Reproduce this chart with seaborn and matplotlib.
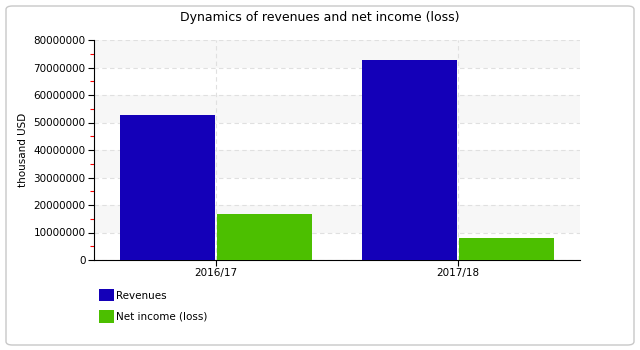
import matplotlib
matplotlib.use("Agg")
import matplotlib.pyplot as plt
import seaborn as sns
import pandas as pd
from matplotlib.patches import FancyBboxPatch, Patch
from matplotlib.ticker import MultipleLocator

categories = ["2016/17", "2017/18"]
series_names = ["Revenues", "Net income (loss)"]
revenues = [52800000, 72700000]
net_income = [16700000, 8000000]
colors = ["#1400B8", "#4CBF00"]

df = pd.DataFrame({
    "period": categories * 2,
    "series": [series_names[0]] * 2 + [series_names[1]] * 2,
    "value": revenues + net_income,
})

sns.set_style("white")
plt.rcParams["font.family"] = ["DejaVu Sans"]
plt.rcParams["text.color"] = "black"
plt.rcParams["axes.labelcolor"] = "black"
plt.rcParams["xtick.color"] = "black"
plt.rcParams["ytick.color"] = "black"

fig = plt.figure(figsize=(6.4, 3.5), dpi=100)
ax = fig.add_axes([94 / 640, 90 / 350, 486 / 640, 220 / 350])

# border
fig.patches.append(FancyBboxPatch((6 / 640, 5 / 350), 628 / 640, 339 / 350,
                                  boxstyle="round,pad=0,rounding_size=0.01",
                                  transform=fig.transFigure, fill=False,
                                  edgecolor="#c8c8c8", linewidth=1))

# bands
for lo in range(10000000, 80000000, 20000000):
    ax.axhspan(lo, lo + 10000000, color="#f7f7f7", zorder=0, lw=0)

sns.barplot(data=df, x="period", y="value", hue="series", palette=colors,
            width=0.8, gap=0.02, linewidth=0, saturation=1, ax=ax,
            legend=False, zorder=3)

ax.set_xlim(-0.504, 1.504)
ax.set_ylim(0, 80000000)
ax.yaxis.set_major_locator(MultipleLocator(10000000))
ax.yaxis.set_minor_locator(MultipleLocator(5000000))
ax.ticklabel_format(axis="y", style="plain", useOffset=False)
ax.grid(True, axis="both", which="major", linestyle=(0, (4, 3)),
        color="#e0e0e0", linewidth=0.8, zorder=1)
ax.set_axisbelow(True)

for s in ["top", "right"]:
    ax.spines[s].set_visible(False)
for s in ["left", "bottom"]:
    ax.spines[s].set_color("black")
    ax.spines[s].set_linewidth(0.8)

ax.tick_params(axis="y", which="major", length=4, width=0.8, color="black",
               labelcolor="black", labelsize=7.5, left=True, pad=2)
ax.tick_params(axis="y", which="minor", length=3, width=0.8, color="red", left=True)
ax.tick_params(axis="x", which="major", length=4, width=0.8, color="black",
               labelcolor="black", labelsize=7.5, bottom=True, pad=2)

ax.set_xlabel("")
ax.set_ylabel("thousand USD", fontsize=7.5, labelpad=4, color="black")
fig.text(0.5, 1 - 18 / 350, "Dynamics of revenues and net income (loss)",
         ha="center", va="center", fontsize=9, color="black")

handles = [Patch(facecolor=c, edgecolor="none") for c in colors]
fig.legend(handles, series_names, loc="upper left",
           bbox_to_anchor=(99 / 640, 1 - 289 / 350), frameon=False,
           fontsize=7.5, handlelength=1.45, handleheight=1.45,
           handletextpad=0.15, labelspacing=0.85, borderaxespad=0,
           borderpad=0, labelcolor="black")

fig.savefig("out.png", dpi=100)
